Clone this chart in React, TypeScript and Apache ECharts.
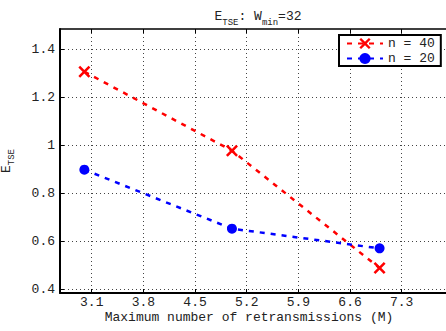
import React, { useEffect, useRef } from "react";
import * as echarts from "echarts";

const xValues = [3, 5, 7];
const seriesN40 = [1.308, 0.979, 0.49];
const seriesN20 = [0.9, 0.654, 0.572];
const seriesNames = ["n = 40", "n = 20"];
const xTicks = [3.1, 3.8, 4.5, 5.2, 5.9, 6.6, 7.3];
const yTicks = [0.4, 0.6, 0.8, 1, 1.2, 1.4];

const FONT = "Liberation Mono";
const CROSS = "path://M0,1.5L1.5,0L5,3.5L8.5,0L10,1.5L6.5,5L10,8.5L8.5,10L5,6.5L1.5,10L0,8.5L3.5,5Z";

export default function App() {
  const ref = useRef<HTMLDivElement>(null);
  useEffect(() => {
    const chart = echarts.init(ref.current!, null, { renderer: "svg" });
    const gridLine = { show: true, lineStyle: { color: "#444", width: 1, type: [1, 3] as any } };
    chart.setOption({
      animation: false,
      backgroundColor: "#fff",
      textStyle: { fontFamily: FONT },
      title: {
        text: "{m|E}{s|TSE}{m|: W}{s|min}{m|=32}",
        left: 253,
        textAlign: "center",
        top: 0,
        textStyle: {
          fontWeight: "normal",
          rich: {
            m: { fontFamily: FONT, fontSize: 13, color: "#222", fontWeight: "normal", lineHeight: 22, verticalAlign: "middle" },
            s: { fontFamily: FONT, fontSize: 9, color: "#222", fontWeight: "normal", lineHeight: 22, verticalAlign: "bottom" },
          },
        },
      },
      grid: { left: 60, right: 0, top: 29, bottom: 38, containLabel: false, outerBoundsMode: "none" },
      legend: {
        orient: "vertical",
        left: 339,
        top: 35,
        data: seriesNames,
        itemWidth: 36,
        itemHeight: 14,
        itemGap: 2,
        padding: [2, 6, 1, 7],
        borderColor: "#000",
        borderWidth: 2,
        borderRadius: 0,
        backgroundColor: "#fff",
        textStyle: { fontFamily: FONT, fontSize: 13, color: "#222" },
      },
      xAxis: [
        {
          type: "value",
          min: 2.67,
          max: 7.9,
          position: "bottom",
          name: "Maximum number of retransmissions (M)",
          nameLocation: "middle",
          nameGap: 18,
          nameMoveOverlap: false,
          nameTextStyle: { fontFamily: FONT, fontSize: 13, color: "#222", padding: [0, 8, 0, 0] },
          axisLine: { show: true, onZero: false, lineStyle: { color: "#000", width: 2 } },
          axisTick: { show: true, inside: true, length: 4, customValues: xTicks, lineStyle: { color: "#000" } },
          axisLabel: {
            customValues: xTicks,
            margin: 3,
            fontFamily: FONT,
            fontSize: 13,
            color: "#222",
            formatter: (v: number) => v.toFixed(1),
          },
          splitLine: gridLine,
        },
        {
          type: "value",
          min: 2.67,
          max: 7.9,
          position: "top",
          axisLine: { show: true, onZero: false, lineStyle: { color: "#000", width: 1.5 } },
          axisTick: { show: true, inside: true, length: 4, customValues: xTicks, lineStyle: { color: "#000" } },
          axisLabel: { show: false },
          splitLine: { show: false },
        },
      ],
      yAxis: {
        type: "value",
        min: 0.386,
        max: 1.486,
        name: "{m|E}{s|TSE}",
        nameLocation: "middle",
        nameGap: 44,
        nameRotate: 90,
        nameMoveOverlap: false,
        nameTextStyle: {
          rich: {
            m: { fontFamily: FONT, fontSize: 13, color: "#222", lineHeight: 20, verticalAlign: "middle" },
            s: { fontFamily: FONT, fontSize: 9, color: "#222", lineHeight: 20, verticalAlign: "bottom" },
          },
        },
        axisLine: { show: true, onZero: false, lineStyle: { color: "#000", width: 2 } },
        axisTick: { show: true, inside: true, length: 4, customValues: yTicks, lineStyle: { color: "#000" } },
        axisLabel: {
          customValues: yTicks,
          margin: 5,
          fontFamily: FONT,
          fontSize: 13,
          color: "#222",
          formatter: (v: number) => (Math.abs(v - 1) < 1e-9 ? "1" : v.toFixed(1)),
        },
        splitLine: gridLine,
      },
      series: [
        {
          name: seriesNames[0],
          type: "line",
          data: xValues.map((x, i) => [x, seriesN40[i]]),
          symbol: CROSS,
          symbolSize: 12,
          itemStyle: { color: "#ff0000" },
          lineStyle: { color: "#ff0000", width: 2.5, type: [5, 6] as any },
        },
        {
          name: seriesNames[1],
          type: "line",
          data: xValues.map((x, i) => [x, seriesN20[i]]),
          symbol: "circle",
          symbolSize: 10,
          itemStyle: { color: "#0000ff" },
          lineStyle: { color: "#0000ff", width: 2.5, type: [5, 6] as any },
        },
      ],
    });
    return () => chart.dispose();
  }, []);
  return <div ref={ref} style={{ width: 446, height: 331, position: "fixed", left: 0, top: 0 }} />;
}
